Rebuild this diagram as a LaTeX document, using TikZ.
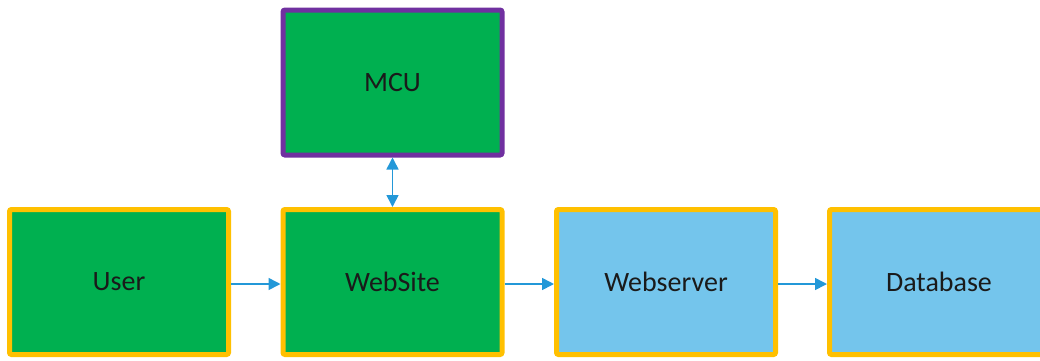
\documentclass[tikz,border=0pt]{standalone}
\usepackage{fontspec}
\setmainfont{Carlito}
\usetikzlibrary{arrows.meta}
\definecolor{boxgreen}{HTML}{00B050}
\definecolor{boxblue}{HTML}{74C5EC}
\definecolor{gold}{HTML}{FFC000}
\definecolor{mcupurple}{HTML}{7030A0}
\definecolor{arrowblue}{HTML}{2398D8}
\definecolor{txt}{HTML}{1A1A1A}
\tikzset{
  px/.style={x=0.5pt,y=-0.5pt},
  block/.style={rectangle, rounded corners=1pt, line width=2.5pt, draw=gold,
    minimum width=109.5pt, minimum height=72.5pt, inner sep=0pt,
    font=\fontsize{14}{16}\selectfont, text=txt},
  greenblock/.style={block, fill=boxgreen},
  blueblock/.style={block, fill=boxblue},
  tip/.style={Triangle[length=6pt,width=6pt]},
  link/.style={draw=arrowblue, line width=0.8pt, -{Triangle[length=6pt,width=6pt]}},
  dlink/.style={draw=arrowblue, line width=0.8pt, {Triangle[length=6pt,width=6pt]}-{Triangle[length=6pt,width=6pt]}}
}
\begin{document}
\begin{tikzpicture}[px]
\useasboundingbox (0,0) rectangle (1040,360);
\clip (0,0) rectangle (1040,360);
\node[greenblock, draw=mcupurple] (mcu) at (392.5,82.5) {\raisebox{-1pt}{MCU}};
\node[greenblock] (user) at (119,282) {\raisebox{-1pt}{User}};
\node[greenblock] (web) at (392.5,282) {\raisebox{-1pt}{WebSite}};
\node[blueblock] (server) at (666,282) {\raisebox{-1pt}{Webserver}};
\node[blueblock] (db) at (939,282) {\raisebox{-1pt}{Database}};
\draw[link] ([yshift=-1pt]user.east) -- ([yshift=-1pt]web.west);
\draw[link] ([yshift=-1pt]web.east) -- ([yshift=-1pt]server.west);
\draw[link] ([yshift=-1pt]server.east) -- ([yshift=-1pt]db.west);
\draw[dlink] (mcu.south) -- (web.north);
\end{tikzpicture}
\end{document}
